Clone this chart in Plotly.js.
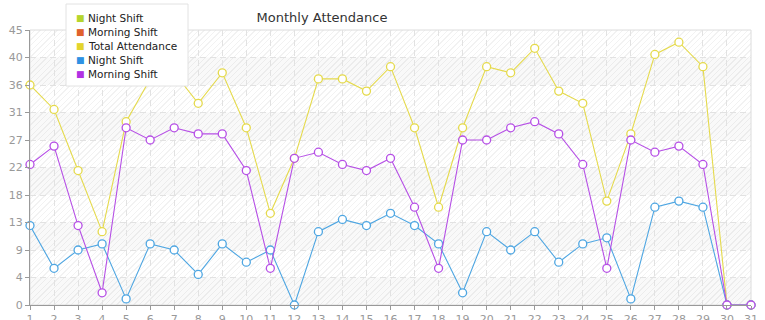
<!DOCTYPE html>
<html>
<head>
<meta charset="utf-8">
<script src="https://cdn.plot.ly/plotly-3.0.1.min.js"></script>
<style>
  html, body { margin: 0; padding: 0; background: #ffffff; }
  #wrap { position: relative; width: 765px; height: 320px; overflow: hidden; }
  #hatch {
    position: absolute; left: 30px; top: 30px; width: 721px; height: 275px;
    background: repeating-linear-gradient(135deg, #ffffff 0px, #ffffff 3px, #f2f2f2 3px, #f2f2f2 4px);
  }
  #chart { position: absolute; left: 0; top: 0; width: 765px; height: 320px; }
</style>
</head>
<body>
<div id="wrap">
  <div id="hatch"></div>
  <div id="chart"></div>
</div>
<script>
// ---- data ----
const days = Array.from({length: 31}, (_, i) => i + 1);
const totalAttendance = [36, 32, 22, 12, 30, 37, 38, 33, 38, 29, 15, 24, 37, 37, 35, 39, 29, 16, 29, 39, 38, 42, 35, 33, 17, 28, 41, 43, 39, 0, 0];
const nightShift      = [13, 6, 9, 10, 1, 10, 9, 5, 10, 7, 9, 0, 12, 14, 13, 15, 13, 10, 2, 12, 9, 12, 7, 10, 11, 1, 16, 17, 16, 0, 0];
const morningShift    = [23, 26, 13, 2, 29, 27, 29, 28, 28, 22, 6, 24, 25, 23, 22, 24, 16, 6, 27, 27, 29, 30, 28, 23, 6, 27, 25, 26, 23, 0, 0];
const legendNames  = ['Night Shift', 'Morning Shift', 'Total Attendance', 'Night Shift', 'Morning Shift'];
const legendColors = ['#b5d52c', '#e0612c', '#e3d42c', '#2e91e3', '#b131e3'];
const yTickVals  = [0, 4.5, 9, 13.5, 18, 22.5, 27, 31.5, 36, 40.5, 45];
const yTickText  = ['0', '4', '9', '13', '18', '22', '27', '31', '36', '40', '45'];
const chartTitle = 'Monthly Attendance';

// ---- traces ----
function lineTrace(name, y, color) {
  return {
    type: 'scatter', mode: 'lines+markers', name: name,
    x: days, y: y, showlegend: false, cliponaxis: false,
    line: {color: color, width: 1.1},
    marker: {symbol: 'circle', size: 8, color: '#ffffff', line: {color: color, width: 1.3}},
    hoverinfo: 'x+y+name'
  };
}
const traces = [
  lineTrace('Total Attendance', totalAttendance, '#e5da4c'),
  lineTrace('Night Shift', nightShift, '#4ea6e2'),
  lineTrace('Morning Shift', morningShift, '#b64fe6')
];

// ---- layout helpers (plot area: x 30..751, y 30..305) ----
const PL = 30, PT = 30, PW = 721, PH = 275;
const px = v => (v - PL) / PW;
const py = v => (PT + PH - v) / PH;

const shapes = [];
// alternating grey bands
for (let i = 0; i < yTickVals.length - 1; i++) {
  if (i % 2 === 0) {
    shapes.push({type: 'rect', layer: 'below', xref: 'paper', yref: 'y',
      x0: 0, x1: 1, y0: yTickVals[i], y1: yTickVals[i + 1],
      fillcolor: 'rgba(0,0,0,0.022)', line: {width: 0}});
  }
}
// light frame (top/right)
shapes.push({type: 'rect', layer: 'below', xref: 'paper', yref: 'paper',
  x0: 0, x1: 1, y0: 0, y1: 1, fillcolor: 'rgba(0,0,0,0)', line: {color: '#dcdcdc', width: 1}});
// legend box
shapes.push({type: 'rect', layer: 'above', xref: 'paper', yref: 'paper',
  x0: px(66), x1: px(188), y0: py(86), y1: py(4),
  fillcolor: '#ffffff', line: {color: '#e2e2e2', width: 1}});

const annotations = [];
legendNames.forEach((n, i) => {
  const yc = 18 + i * 14;
  annotations.push({xref: 'paper', yref: 'paper', x: px(74), y: py(yc),
    xanchor: 'left', yanchor: 'middle', showarrow: false,
    text: '<span style="color:' + legendColors[i] + '">■</span>',
    font: {family: 'DejaVu Sans', size: 9, color: legendColors[i]}});
  annotations.push({xref: 'paper', yref: 'paper', x: px(86), y: py(yc),
    xanchor: 'left', yanchor: 'middle', showarrow: false, text: n,
    font: {family: 'DejaVu Sans', size: 10.5, color: '#222222'}});
});

const layout = {
  width: 765, height: 320,
  margin: {l: PL, r: 765 - PL - PW, t: PT, b: 320 - PT - PH, pad: 0},
  paper_bgcolor: 'rgba(0,0,0,0)', plot_bgcolor: 'rgba(0,0,0,0)',
  font: {family: 'DejaVu Sans', size: 11, color: '#999999'},
  title: {text: chartTitle, x: 322 / 765, xanchor: 'center', xref: 'container',
          y: 1 - 17 / 320, yanchor: 'middle', yref: 'container',
          font: {family: 'DejaVu Sans', size: 13, color: '#333333'}},
  showlegend: false,
  xaxis: {range: [1, 31], tickvals: days, ticktext: days.map(String),
          showgrid: true, gridcolor: '#e2e2e2', griddash: '6px,4px', gridwidth: 1,
          zeroline: false, showline: true, linecolor: '#999999', linewidth: 1,
          ticks: 'outside', ticklen: 4, tickcolor: '#999999',
          tickfont: {family: 'DejaVu Sans', size: 11, color: '#999999'}, fixedrange: true},
  yaxis: {range: [0, 45], tickvals: yTickVals, ticktext: yTickText,
          showgrid: true, gridcolor: '#e2e2e2', griddash: '6px,4px', gridwidth: 1,
          zeroline: false, showline: true, linecolor: '#999999', linewidth: 1,
          ticks: 'outside', ticklen: 4, tickcolor: '#999999',
          tickfont: {family: 'DejaVu Sans', size: 11, color: '#999999'}, fixedrange: true},
  shapes: shapes,
  annotations: annotations,
  hovermode: 'closest'
};

Plotly.newPlot('chart', traces, layout, {displayModeBar: false, staticPlot: false});
</script>
</body>
</html>
